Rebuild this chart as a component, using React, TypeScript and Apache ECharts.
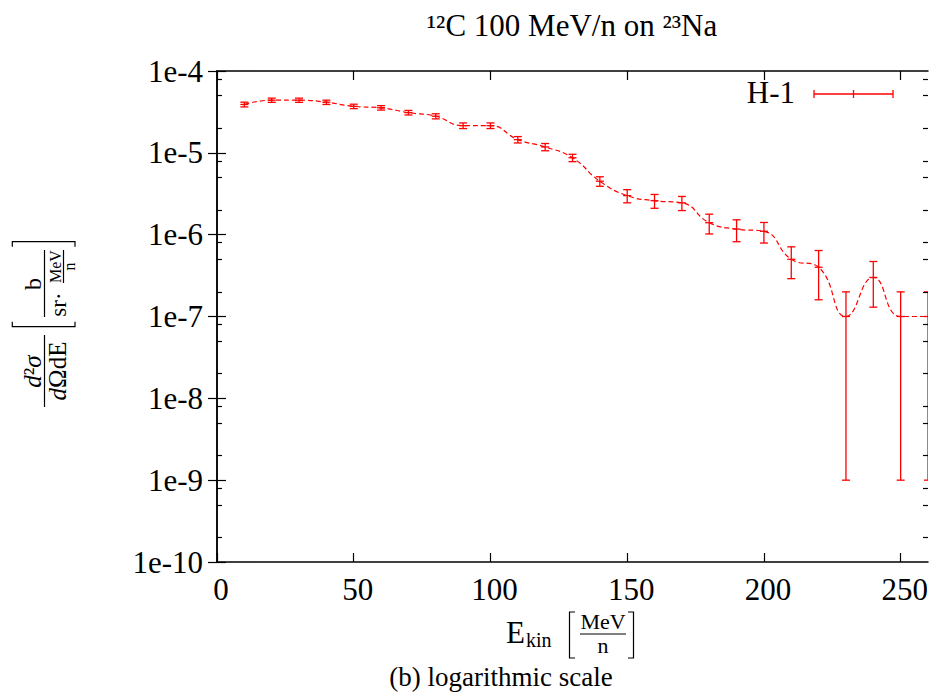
import React, { useEffect, useRef } from "react";
import * as echarts from "echarts";

// ---- data ----
const energies = [10, 20, 30, 40, 50, 60, 70, 80, 90, 100, 110, 120, 130, 140, 150, 160, 170, 180, 190, 200, 210, 220, 230, 240, 250, 260];
const crossSections = [
  3.9e-5, 4.4e-5, 4.4e-5, 4.15e-5, 3.7e-5, 3.55e-5, 3.1e-5, 2.8e-5, 2.15e-5, 2.15e-5,
  1.45e-5, 1.18e-5, 8.7e-6, 4.5e-6, 3.0e-6, 2.6e-6, 2.45e-6, 1.4e-6, 1.17e-6, 1.1e-6,
  5e-7, 4e-7, 1e-7, 3e-7, 1e-7, 1e-7,
];
const crossSectionErrors = [
  2.6e-6, 2.6e-6, 2.6e-6, 2.5e-6, 2.3e-6, 2.2e-6, 2.0e-6, 2.0e-6, 1.7e-6, 1.7e-6,
  1.3e-6, 1.2e-6, 9e-7, 6e-7, 5.5e-7, 5e-7, 4.8e-7, 3.8e-7, 3.5e-7, 3.1e-7,
  2.1e-7, 2.4e-7, 1e-7, 1.7e-7, 1e-7, 1e-7,
];
const xTickValues = [0, 50, 100, 150, 200, 250];
const yTickExponents = [-10, -9, -8, -7, -6, -5, -4];
const minorMantissas = [2, 5, 8];
const logFloor = 1e-9;
const xMin = 0;
const xMax = 260;
const titleText = "\u00B9\u00B2C 100 MeV/n on \u00B2\u00B3Na";
const seriesName = "H-1";
const captionText = "(b) logarithmic scale";

const RED = "#ff0000";
const FONT = "'Liberation Serif', 'Times New Roman', serif";

export default function App() {
  const ref = useRef<HTMLDivElement>(null);

  useEffect(() => {
    const chart = echarts.init(ref.current as HTMLDivElement, null, { renderer: "svg" });
    const lg = Math.log10;

    const lineData = energies.map((e, i) => [e, lg(crossSections[i])]);
    const errData = energies.map((e, i) => {
      const v = crossSections[i];
      const err = crossSectionErrors[i];
      return [e, lg(v), lg(Math.max(v - err, logFloor)), lg(v + err)];
    });
    const yMin = yTickExponents[0];
    const yMax = yTickExponents[yTickExponents.length - 1];
    const minorTicks: number[] = [];
    for (let k = yMin; k < yMax; k++) minorMantissas.forEach((m) => minorTicks.push(k + lg(m)));

    const axisLine = { show: true, lineStyle: { color: "#000", width: 1.5 } };
    const majorTick = { show: true, inside: true, length: 9, lineStyle: { color: "#000", width: 1.2 } };
    const minorTick = { show: true, inside: true, length: 5, lineStyle: { color: "#000", width: 1.2 }, customValues: minorTicks };
    const labelBase = { color: "#000", fontFamily: FONT, fontSize: 31 };

    const textStyle = (text: string, x: number, y: number, size: number, align = "center", extra: any = {}) => ({
      type: "text",
      style: { text, x, y, fill: "#000", fontFamily: FONT, fontSize: size, align, verticalAlign: "middle", ...extra },
    });
    const blackLine = (x1: number, y1: number, x2: number, y2: number) => ({
      type: "line",
      shape: { x1, y1, x2, y2 },
      style: { stroke: "#000", lineWidth: 1.2 },
    });
    const bracket = (pts: number[][]) => ({
      type: "polyline",
      shape: { points: pts },
      style: { stroke: "#000", lineWidth: 1.2, fill: null },
    });
    const redLine = (x1: number, y1: number, x2: number, y2: number) => ({
      type: "line",
      shape: { x1, y1, x2, y2 },
      style: { stroke: RED, lineWidth: 1.3 },
    });

    const option: any = {
      animation: false,
      backgroundColor: "#fff",
      grid: { left: 217, right: 4, top: 71, bottom: 134, containLabel: false },
      xAxis: [
        {
          type: "value",
          position: "bottom",
          min: xMin,
          max: xMax,
          z: 10,
          axisLine,
          axisTick: { ...majorTick, customValues: xTickValues },
          axisLabel: { ...labelBase, customValues: xTickValues, margin: 12, padding: [0, 0, 0, 8] },
          splitLine: { show: false },
        },
        {
          type: "value",
          position: "top",
          min: xMin,
          max: xMax,
          z: 10,
          axisLine,
          axisTick: { ...majorTick, customValues: xTickValues },
          axisLabel: { show: false },
          splitLine: { show: false },
        },
      ],
      yAxis: [
        {
          type: "value",
          position: "left",
          min: yMin,
          max: yMax,
          interval: 1,
          z: 10,
          axisLine,
          axisTick: majorTick,
          axisLabel: { ...labelBase, margin: 14, padding: [0, 0, 5, 0], formatter: (v: number) => "1e" + v },
          splitLine: { show: false },
        },
        {
          type: "value",
          position: "right",
          min: yMin,
          max: yMax,
          interval: 1,
          z: 10,
          axisLine,
          axisTick: majorTick,
          axisLabel: { show: false },
          splitLine: { show: false },
        },
        {
          type: "value",
          position: "left",
          min: yMin,
          max: yMax,
          z: 10,
          axisLine: { show: false },
          axisTick: minorTick,
          axisLabel: { show: false },
          splitLine: { show: false },
        },
        {
          type: "value",
          position: "right",
          min: yMin,
          max: yMax,
          z: 10,
          axisLine: { show: false },
          axisTick: minorTick,
          axisLabel: { show: false },
          splitLine: { show: false },
        },
      ],
      series: [
        {
          type: "line",
          name: seriesName,
          xAxisIndex: 0,
          yAxisIndex: 0,
          data: lineData,
          smooth: true,
          symbol: "none",
          clip: true,
          lineStyle: { color: RED, width: 1.2, type: [5, 3] },
          z: -2,
        },
        {
          type: "custom",
          name: seriesName,
          xAxisIndex: 0,
          yAxisIndex: 0,
          data: errData,
          encode: { x: 0, y: 1 },
          clip: true,
          z: -1,
          renderItem: (params: any, api: any) => {
            const x = api.value(0);
            const pm = api.coord([x, api.value(1)]);
            const pl = api.coord([x, api.value(2)]);
            const ph = api.coord([x, api.value(3)]);
            const hw = 4;
            const st = { stroke: RED, lineWidth: 1.3 };
            return {
              type: "group",
              children: [
                { type: "line", shape: { x1: pl[0], y1: pl[1], x2: ph[0], y2: ph[1] }, style: st },
                { type: "line", shape: { x1: pl[0] - hw, y1: pl[1], x2: pl[0] + hw, y2: pl[1] }, style: st },
                { type: "line", shape: { x1: ph[0] - hw, y1: ph[1], x2: ph[0] + hw, y2: ph[1] }, style: st },
                { type: "line", shape: { x1: pm[0] - hw, y1: pm[1], x2: pm[0] + hw, y2: pm[1] }, style: st },
              ],
            };
          },
        },
      ],
      graphic: [
        // title
        textStyle(titleText, 572, 25, 31),
        // legend
        textStyle(seriesName, 795, 92, 31, "right"),
        redLine(814, 94, 893, 94),
        redLine(814, 90, 814, 98),
        redLine(893, 90, 893, 98),
        redLine(853.5, 90, 853.5, 98),
        // x axis label
        textStyle("E", 515.5, 632.5, 31),
        textStyle("kin", 526, 640, 20, "left"),
        bracket([[575, 612], [569.5, 612], [569.5, 658], [575, 658]]),
        bracket([[628, 612], [633.5, 612], [633.5, 658], [628, 658]]),
        textStyle("MeV", 603, 621.5, 22),
        blackLine(580, 634, 626, 634),
        textStyle("n", 603, 645.5, 22),
        // caption
        textStyle(captionText, 501, 677, 27),
        // y axis label (rotated)
        {
          type: "group",
          x: 44.5,
          y: 320,
          rotation: Math.PI / 2,
          children: [
            {
              type: "text",
              style: {
                text: "{i|d}\u00B2{i|\u03C3}",
                x: -51.5,
                y: -12,
                fill: "#000",
                fontFamily: FONT,
                fontSize: 25,
                align: "center",
                verticalAlign: "middle",
                rich: { i: { fontStyle: "italic", fontFamily: FONT, fontSize: 25 } },
              },
            },
            blackLine(-87, 0, -15, 0),
            {
              type: "text",
              style: {
                text: "{i|d}\u03A9dE",
                x: -51,
                y: 12.5,
                fill: "#000",
                fontFamily: FONT,
                fontSize: 25,
                align: "center",
                verticalAlign: "middle",
                rich: { i: { fontStyle: "italic", fontFamily: FONT, fontSize: 25 } },
              },
            },
            bracket([[-1.7, -32.2], [-6.7, -32.2], [-6.7, 30.5], [-1.7, 30.5]]),
            bracket([[73.3, -32.2], [78.3, -32.2], [78.3, 30.5], [73.3, 30.5]]),
            textStyle("b", 36, -12, 24),
            blackLine(3, 0, 70, 0),
            textStyle("sr\u00B7", 15.5, 13.5, 23),
            textStyle("MeV", 53.5, 11, 16),
            blackLine(37, 19, 70, 19),
            textStyle("n", 53.5, 25, 16),
          ],
        },
      ],
    };

    chart.setOption(option);
    return () => chart.dispose();
  }, []);

  return (
    <div
      ref={ref}
      style={{ position: "fixed", left: 0, top: 0, width: 932, height: 696, background: "#fff" }}
    />
  );
}
